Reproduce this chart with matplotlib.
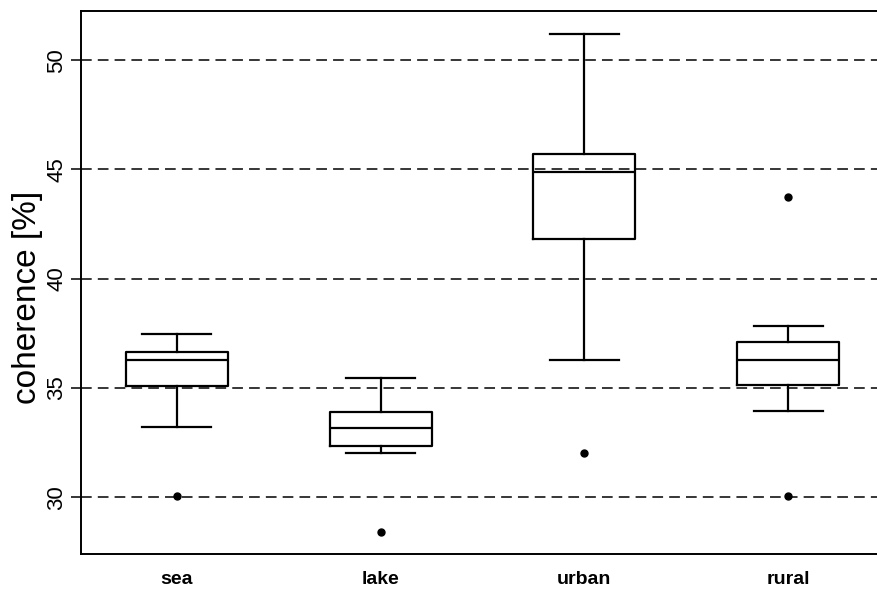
import matplotlib as mpl
mpl.use('Agg')
import matplotlib.pyplot as plt

plt.rcParams['font.family'] = ['Liberation Sans', 'DejaVu Sans']

# box statistics
groups = ['sea', 'lake', 'urban', 'rural']
whislo = [33.2, 32.0, 36.3, 33.95]
q1 = [35.1, 32.35, 41.8, 35.15]
med = [36.3, 33.15, 44.9, 36.3]
q3 = [36.65, 33.9, 45.7, 37.1]
whishi = [37.45, 35.45, 51.2, 37.85]
fliers = [[30.05], [28.4], [32.0], [43.75, 30.05]]

yticks = [30, 35, 40, 45, 50]

stats = []
for i, g in enumerate(groups):
    stats.append(dict(label=g, whislo=whislo[i], q1=q1[i], med=med[i],
                      q3=q3[i], whishi=whishi[i], fliers=fliers[i]))

fig = plt.figure(figsize=(8.77, 6.10), dpi=100)
ax = fig.add_axes([81/877, 56/610, (884-81)/877, (554-11)/610])

for t in yticks:
    ax.axhline(t, color='black', lw=1.1, ls=(0, (7, 4)), zorder=1)

line = dict(color='black', lw=1.6)
ax.bxp(stats, positions=range(1, 5), widths=0.5, capwidths=0.34,
       boxprops=line, whiskerprops=line, capprops=line, medianprops=line,
       flierprops=dict(marker='o', markerfacecolor='black',
                       markeredgecolor='black', markersize=5),
       patch_artist=False, manage_ticks=False, zorder=3)

ax.set_xlim(0.53, 4.47)
ax.set_ylim(27.4, 52.25)
ax.set_xticks(range(1, 5))
ax.set_xticklabels(groups, fontsize=14, fontweight='bold')
ax.tick_params(axis='x', length=0, pad=12)
ax.set_yticks(yticks)
ax.set_yticklabels([str(t) for t in yticks], rotation=90, va='center',
                   fontsize=16)
ax.tick_params(axis='y', length=7, width=1.1, pad=3)
ax.set_ylabel('coherence [%]', fontsize=24)
ax.yaxis.set_label_coords(-0.047, 0.473)
for s in ax.spines.values():
    s.set_linewidth(1.4)

plt.savefig('out.png', dpi=100)
